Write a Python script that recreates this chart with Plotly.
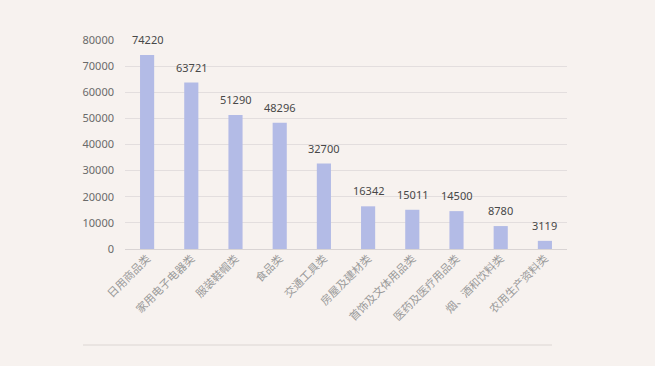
import plotly.graph_objects as go

categories = ["日用商品类", "家用电子电器类", "服装鞋帽类", "食品类", "交通工具类",
              "房屋及建材类", "首饰及文体用品类", "医药及医疗用品类", "烟、酒和饮料类", "农用生产资料类"]
values = [74220, 63721, 51290, 48296, 32700, 16342, 15011, 14500, 8780, 3119]
y_ticks = [0, 10000, 20000, 30000, 40000, 50000, 60000, 70000, 80000]

W, H = 655, 366
L, R, T, B = 125, 88, 40, 117
pw, ph = W - L - R, H - T - B

fig = go.Figure(go.Bar(
    x=categories, y=values,
    marker=dict(color="#b3bbe6", line=dict(width=0)),
    cliponaxis=False,
))

for c, v in zip(categories, values):
    fig.add_annotation(x=c, y=v, text=str(v), showarrow=False,
                       yanchor="bottom", yshift=6,
                       font=dict(family="Noto Sans, sans-serif", size=11, color="#484848"))

fig.update_layout(
    width=W, height=H,
    margin=dict(l=L, r=R, t=T, b=B),
    paper_bgcolor="#f7f2ef", plot_bgcolor="#f7f2ef",
    bargap=0.68,
    showlegend=False,
    xaxis=dict(tickangle=-45, showgrid=False, showline=False, ticks="",
               tickfont=dict(family="Noto Sans CJK SC", size=11, color="#9a9a9a")),
    yaxis=dict(range=[0, 80000], tickvals=y_ticks, ticktext=[str(v) for v in y_ticks],
               showgrid=True, gridcolor="#e3dede", gridwidth=1, zeroline=True,
               zerolinecolor="#d9d4d4", zerolinewidth=1, showline=False, ticks="",
               ticklabelstandoff=10,
               tickfont=dict(family="Noto Sans, sans-serif", size=11, color="#6a6a6a")),
    shapes=[dict(type="line", xref="paper", yref="paper",
                 x0=(83 - L) / pw, x1=(552 - L) / pw,
                 y0=(T + ph - 345) / ph, y1=(T + ph - 345) / ph,
                 line=dict(color="#dcd6d3", width=1))],
)

fig.write_html("out.html")
